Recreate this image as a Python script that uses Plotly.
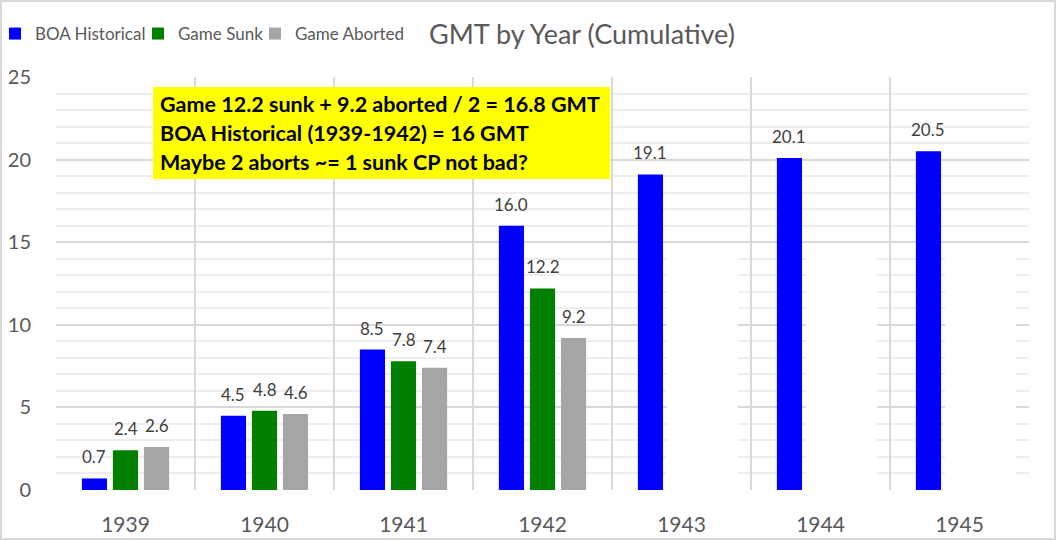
import plotly.graph_objects as go

years = ["1939", "1940", "1941", "1942", "1943", "1944", "1945"]
boa_historical = [0.7, 4.5, 8.5, 16.0, 19.1, 20.1, 20.5]
game_sunk = [2.4, 4.8, 7.8, 12.2, None, None, None]
game_aborted = [2.6, 4.6, 7.4, 9.2, None, None, None]

series = [
    ("BOA Historical", boa_historical, "#0000FF", 98),
    ("Game Sunk", game_sunk, "#008000", 72),
    ("Game Aborted", game_aborted, "#A5A5A5", None),
]

note_lines = [
    "Game 12.2 sunk + 9.2 aborted / 2 = 16.8 GMT",
    "BOA Historical (1939-1942) = 16 GMT",
    "Maybe 2 aborts ~= 1 sunk CP not bad?",
]

W, H = 1056, 540
ML, MR, MT, MB = 56, 27, 77, 50
PW, PH = W - ML - MR, H - MT - MB
BARGAP, BARGROUPGAP = 0.33, 0.19
FONT = "Lato"

def px_x(p):
    return (p - ML) / PW

def px_y(p):
    return (H - MB - p) / PH

fig = go.Figure()
for name, vals, color, lw in series:
    fig.add_trace(go.Bar(name=name, x=years, y=vals, legendwidth=lw,
                         marker=dict(color=color, line=dict(width=0))))

# data labels
cat_px = PW / len(years)
slot = (1 - BARGAP) * cat_px / len(series)
annotations = []
for si, (name, vals, color, lw) in enumerate(series):
    shift = (si - (len(series) - 1) / 2) * slot
    for xi, v in enumerate(vals):
        if v is None:
            continue
        annotations.append(dict(x=xi, y=v, xref="x", yref="y", text=f"{v:.1f}",
                                showarrow=False, xshift=shift, yanchor="bottom", yshift=9,
                                font=dict(family=FONT, size=17, color="#404040")))

# note box text
for i, line in enumerate(note_lines):
    annotations.append(dict(x=px_x(158), y=px_y(104 + 29 * i), xref="paper", yref="paper",
                            xanchor="left", yanchor="middle", text=f"<b>{line}</b>", showarrow=False,
                            font=dict(family=FONT, size=21.5, color="#000000")))

shapes = [
    # yellow note box
    dict(type="rect", xref="paper", yref="paper", x0=px_x(153), x1=px_x(610), y0=px_y(179), y1=px_y(87),
         fillcolor="#FFFF00", line=dict(width=0), layer="above"),
    # outer chart border
    dict(type="rect", xref="paper", yref="paper", x0=px_x(1), x1=px_x(1055), y0=px_y(539), y1=px_y(1),
         fillcolor="rgba(0,0,0,0)", line=dict(color="#D9D9D9", width=2), layer="above"),
]
# white covering boxes over the gridlines in the 1943-1945 groups
for i in range(4, 7):
    shapes.append(dict(type="rect", xref="x", yref="y", x0=i - 0.105, x1=i + 0.405, y0=-0.4, y1=14.5,
                       fillcolor="#FFFFFF", line=dict(width=0), layer="between"))

fig.update_layout(
    width=W, height=H,
    margin=dict(l=ML, r=MR, t=MT, b=MB, autoexpand=False),
    paper_bgcolor="white", plot_bgcolor="white",
    barmode="group", bargap=BARGAP, bargroupgap=BARGROUPGAP,
    font=dict(family=FONT, color="#595959"),
    title=dict(text="GMT by Year (Cumulative)", x=582 / W, xanchor="center",
               y=1 - 35 / H, yanchor="middle", font=dict(family=FONT, size=27, color="#595959")),
    legend=dict(orientation="h", x=px_x(-5), xanchor="left", y=px_y(34), yanchor="middle",
                font=dict(family=FONT, size=17, color="#595959"), bgcolor="rgba(0,0,0,0)"),
    xaxis=dict(type="category", range=[-0.5, 6.5], tickson="boundaries", showgrid=True,
               gridcolor="#D9D9D9", gridwidth=2, ticks="", ticklabelstandoff=20, automargin=False,
               tickfont=dict(family=FONT, size=21, color="#595959"), showline=False, zeroline=False),
    yaxis=dict(range=[0, 25], dtick=5, showgrid=True, gridcolor="#D9D9D9", gridwidth=2,
               minor=dict(dtick=1, showgrid=True, gridcolor="#EEEEEE", gridwidth=1.5),
               ticks="", ticklabelstandoff=24, zeroline=False, showline=False, automargin=False,
               tickfont=dict(family=FONT, size=20, color="#595959")),
    annotations=annotations,
    shapes=shapes,
)

fig.write_html("out.html")
